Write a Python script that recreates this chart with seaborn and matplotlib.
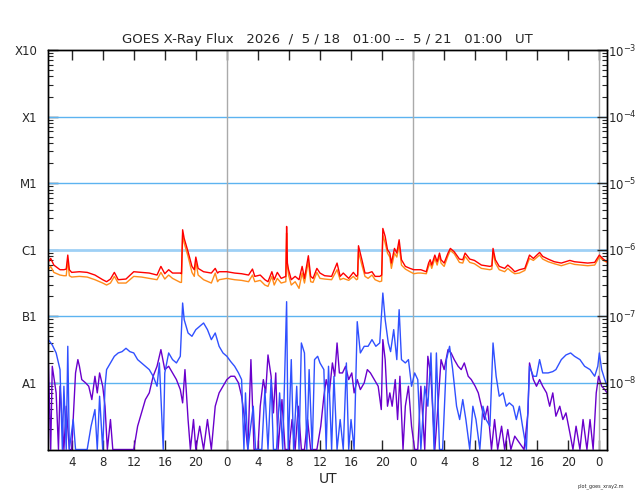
import matplotlib
matplotlib.use("Agg")
import matplotlib.pyplot as plt
import numpy as np
import pandas as pd
import seaborn as sns
from matplotlib.ticker import FixedLocator, LogLocator, NullFormatter

# (hours after 2026-05-18 01:00 UT, log10 flux in W/m^2)
red_pts = [
    (0.0, -6.18), (0.3, -6.13), (0.7, -6.23), (1.5, -6.30), (2.0, -6.30), (2.3, -6.29),
    (2.5, -6.08), (2.7, -6.30), (3.0, -6.34), (4.0, -6.33), (5.0, -6.34), (6.0, -6.38),
    (7.0, -6.45), (7.5, -6.48), (8.0, -6.44), (8.5, -6.34), (9.0, -6.45), (10.0, -6.44),
    (11.0, -6.33), (12.0, -6.34), (13.0, -6.35), (14.0, -6.38), (14.5, -6.25), (15.0, -6.36),
    (15.5, -6.30), (16.0, -6.35), (17.0, -6.35), (17.15, -6.36), (17.3, -5.70), (17.5, -5.83),
    (18.0, -6.03), (18.5, -6.25), (18.8, -6.30), (19.0, -6.11), (19.3, -6.28), (20.0, -6.33),
    (21.0, -6.35), (21.5, -6.28), (21.8, -6.35), (22.0, -6.33), (23.0, -6.33), (24.0, -6.35),
    (24.9, -6.36), (25.8, -6.38), (26.3, -6.29), (26.6, -6.40), (27.3, -6.38), (27.9, -6.45),
    (28.3, -6.48), (28.8, -6.33), (29.1, -6.45), (29.5, -6.34), (30.0, -6.43), (30.6, -6.40),
    (30.7, -5.65), (30.8, -6.20), (30.95, -6.30), (31.3, -6.45), (31.8, -6.40), (32.3, -6.45),
    (32.7, -6.25), (33.0, -6.43), (33.5, -6.09), (33.8, -6.40), (34.1, -6.43), (34.6, -6.28),
    (35.0, -6.35), (35.6, -6.39), (36.5, -6.40), (37.2, -6.20), (37.6, -6.40), (38.0, -6.35),
    (38.7, -6.43), (39.3, -6.34), (39.7, -6.40), (39.85, -6.38), (39.96, -5.94), (40.4, -6.15),
    (40.8, -6.35), (41.2, -6.35), (41.7, -6.33), (42.1, -6.40), (42.7, -6.40), (42.95, -6.38),
    (43.1, -5.68), (43.4, -5.80), (43.7, -6.00), (44.0, -6.05), (44.2, -6.20), (44.6, -5.98),
    (44.9, -6.05), (45.2, -5.85), (45.5, -6.15), (46.0, -6.25), (46.6, -6.28), (47.1, -6.30),
    (47.6, -6.30), (48.0, -6.30), (48.7, -6.33), (49.0, -6.20), (49.2, -6.15), (49.4, -6.23),
    (49.8, -6.08), (50.1, -6.18), (50.4, -6.05), (50.6, -6.15), (51.0, -6.20), (51.5, -6.05),
    (51.8, -5.98), (52.3, -6.03), (52.97, -6.14), (53.4, -6.15), (53.7, -6.05), (54.3, -6.14),
    (54.9, -6.16), (55.8, -6.23), (56.9, -6.25), (57.15, -6.24), (57.3, -5.98), (57.6, -6.15),
    (58.1, -6.25), (58.8, -6.28), (59.2, -6.23), (59.7, -6.28), (60.1, -6.33), (60.7, -6.30),
    (61.4, -6.28), (62.0, -6.08), (62.5, -6.13), (63.3, -6.04), (63.7, -6.10), (64.4, -6.14),
    (65.2, -6.18), (66.1, -6.20), (67.2, -6.16), (67.8, -6.18), (68.7, -6.19), (69.5, -6.20),
    (70.4, -6.19), (71.0, -6.08), (71.5, -6.14), (72.0, -6.18),
]

orange_pts = [
    (0.0, -6.30), (0.3, -6.25), (0.7, -6.34), (1.5, -6.38), (2.0, -6.39), (2.3, -6.39),
    (2.5, -6.15), (2.7, -6.39), (3.0, -6.41), (4.0, -6.40), (5.0, -6.41), (6.0, -6.45),
    (7.0, -6.50), (7.5, -6.53), (8.0, -6.50), (8.5, -6.40), (9.0, -6.50), (10.0, -6.50),
    (11.0, -6.40), (12.0, -6.41), (13.0, -6.43), (14.0, -6.45), (14.5, -6.34), (15.0, -6.44),
    (15.5, -6.38), (16.0, -6.43), (17.0, -6.49), (17.15, -6.49), (17.3, -5.78), (17.5, -5.90),
    (18.0, -6.10), (18.5, -6.34), (18.8, -6.40), (19.0, -6.18), (19.3, -6.38), (20.0, -6.45),
    (21.0, -6.50), (21.5, -6.35), (21.8, -6.48), (22.0, -6.45), (23.0, -6.43), (24.0, -6.45),
    (24.9, -6.46), (25.8, -6.48), (26.3, -6.38), (26.6, -6.48), (27.3, -6.46), (27.9, -6.53),
    (28.3, -6.55), (28.8, -6.40), (29.1, -6.53), (29.5, -6.43), (30.0, -6.50), (30.6, -6.48),
    (30.7, -5.75), (30.8, -6.25), (30.95, -6.38), (31.3, -6.53), (31.8, -6.48), (32.3, -6.58),
    (32.7, -6.35), (33.0, -6.50), (33.5, -6.18), (33.8, -6.48), (34.1, -6.49), (34.6, -6.34),
    (35.0, -6.43), (35.6, -6.44), (36.5, -6.45), (37.2, -6.30), (37.6, -6.45), (38.0, -6.43),
    (38.7, -6.46), (39.3, -6.40), (39.7, -6.45), (39.85, -6.44), (39.96, -6.03), (40.4, -6.23),
    (40.8, -6.40), (41.2, -6.43), (41.7, -6.38), (42.1, -6.45), (42.7, -6.48), (42.95, -6.47),
    (43.1, -5.78), (43.4, -5.90), (43.7, -6.05), (44.0, -6.11), (44.2, -6.28), (44.6, -6.05),
    (44.9, -6.11), (45.2, -5.93), (45.5, -6.23), (46.0, -6.29), (46.6, -6.33), (47.1, -6.36),
    (47.6, -6.35), (48.0, -6.35), (48.7, -6.36), (49.0, -6.25), (49.2, -6.20), (49.4, -6.28),
    (49.8, -6.13), (50.1, -6.23), (50.4, -6.09), (50.6, -6.20), (51.0, -6.25), (51.5, -6.09),
    (51.8, -6.01), (52.3, -6.06), (52.97, -6.19), (53.4, -6.20), (53.7, -6.10), (54.3, -6.19),
    (54.9, -6.21), (55.8, -6.28), (56.9, -6.30), (57.15, -6.29), (57.3, -6.03), (57.6, -6.20),
    (58.1, -6.30), (58.8, -6.33), (59.2, -6.28), (59.7, -6.33), (60.1, -6.36), (60.7, -6.35),
    (61.4, -6.31), (62.0, -6.13), (62.5, -6.16), (63.3, -6.08), (63.7, -6.14), (64.4, -6.18),
    (65.2, -6.21), (66.1, -6.24), (67.2, -6.20), (67.8, -6.22), (68.7, -6.23), (69.5, -6.24),
    (70.4, -6.23), (71.0, -6.11), (71.5, -6.16), (72.0, -6.19),
]

blue_pts = [
    (0.0, -7.35), (0.5, -7.43), (1.0, -7.55), (1.5, -7.80), (1.8, -9.0), (2.0, -8.05),
    (2.3, -9.0), (2.5, -7.45), (2.7, -9.0), (3.2, -8.55), (3.5, -9.0), (5.0, -9.0),
    (5.5, -8.65), (6.0, -8.40), (6.3, -9.0), (6.6, -8.20), (7.0, -9.0), (7.3, -8.05),
    (7.5, -7.80), (8.0, -7.70), (8.5, -7.60), (9.0, -7.55), (9.5, -7.53), (10.0, -7.48),
    (10.5, -7.53), (11.0, -7.55), (11.5, -7.65), (12.0, -7.70), (12.5, -7.75), (13.0, -7.80),
    (13.5, -7.90), (14.0, -8.05), (14.3, -7.70), (14.5, -8.20), (14.8, -9.0), (15.0, -7.85),
    (15.5, -7.55), (16.0, -7.65), (16.5, -7.70), (17.0, -7.60), (17.3, -6.80), (17.5, -7.05),
    (18.0, -7.25), (18.5, -7.30), (19.0, -7.20), (19.5, -7.15), (20.0, -7.10), (20.5, -7.20),
    (21.0, -7.35), (21.5, -7.25), (22.0, -7.45), (22.5, -7.55), (23.0, -7.60), (23.5, -7.68),
    (24.0, -7.75), (24.5, -7.85), (24.9, -7.95), (25.2, -9.0), (25.4, -8.15), (25.7, -9.0),
    (26.4, -8.35), (26.7, -9.0), (27.5, -9.0), (27.9, -8.10), (28.3, -9.0), (28.7, -7.95),
    (29.0, -9.0), (29.4, -9.0), (29.8, -8.15), (30.2, -9.0), (30.7, -6.78), (30.9, -9.0),
    (31.3, -7.65), (31.6, -9.0), (32.0, -8.05), (32.3, -9.0), (32.6, -7.40), (33.0, -7.55),
    (33.3, -9.0), (33.6, -7.80), (34.0, -9.0), (34.3, -7.65), (34.7, -7.60), (35.0, -7.70),
    (35.5, -7.80), (35.8, -9.0), (36.1, -7.75), (36.5, -9.0), (36.8, -7.90), (37.2, -9.0),
    (37.6, -8.55), (38.0, -9.0), (38.4, -7.70), (38.7, -9.0), (39.0, -8.55), (39.4, -9.0),
    (39.8, -7.08), (40.2, -7.55), (40.7, -7.45), (41.2, -7.45), (41.7, -7.35), (42.2, -7.45),
    (42.7, -7.40), (43.1, -6.65), (43.4, -7.05), (43.8, -7.40), (44.1, -7.53), (44.5, -7.20),
    (44.9, -7.65), (45.2, -6.90), (45.5, -7.65), (46.0, -7.70), (46.4, -7.65), (46.8, -8.05),
    (47.2, -7.85), (47.6, -7.95), (48.0, -9.0), (48.5, -8.05), (48.9, -8.35), (49.3, -7.55),
    (49.7, -9.0), (50.0, -7.55), (50.4, -9.0), (50.8, -9.0), (51.3, -7.65), (51.7, -7.45),
    (52.1, -7.80), (52.6, -8.35), (53.0, -8.55), (53.4, -8.25), (53.8, -8.55), (54.3, -9.0),
    (54.7, -8.35), (55.1, -8.55), (55.6, -9.0), (56.0, -8.35), (56.4, -8.55), (56.9, -8.65),
    (57.3, -7.40), (57.7, -7.90), (58.1, -8.20), (58.6, -8.15), (59.0, -8.35), (59.4, -8.30),
    (59.9, -8.35), (60.3, -8.55), (60.7, -8.35), (61.1, -8.65), (61.6, -9.0), (62.0, -7.75),
    (62.5, -7.90), (62.9, -7.90), (63.3, -7.65), (63.7, -7.85), (64.4, -7.85), (65.0, -7.83),
    (65.4, -7.80), (66.1, -7.65), (66.7, -7.58), (67.3, -7.55), (67.8, -7.60), (68.5, -7.65),
    (69.1, -7.75), (69.8, -7.80), (70.4, -7.90), (70.8, -7.75), (71.0, -7.55), (71.3, -7.80),
    (71.7, -7.95), (72.0, -8.05),
]

purple_pts = [
    (0.0, -7.70), (0.3, -9.0), (0.5, -7.75), (1.0, -8.15), (1.3, -9.0), (1.5, -8.05),
    (2.0, -9.0), (2.3, -8.35), (2.7, -9.0), (3.0, -9.0), (3.5, -7.85), (3.8, -7.65),
    (4.0, -7.75), (4.3, -7.95), (4.8, -8.00), (5.2, -8.05), (5.6, -8.25), (6.0, -7.90),
    (6.3, -8.15), (6.6, -7.85), (7.0, -8.05), (7.3, -8.35), (7.6, -9.0), (8.0, -8.55),
    (8.3, -9.0), (11.0, -9.0), (11.5, -8.65), (12.0, -8.45), (12.5, -8.25), (13.0, -8.15),
    (13.5, -7.90), (14.0, -7.75), (14.5, -7.50), (15.0, -7.80), (15.5, -7.75), (16.0, -7.85),
    (16.5, -7.95), (17.0, -8.10), (17.3, -8.30), (17.6, -7.80), (18.0, -8.55), (18.3, -9.0),
    (18.7, -8.55), (19.0, -9.0), (19.5, -8.65), (20.0, -9.0), (20.5, -8.55), (21.0, -9.0),
    (21.5, -8.35), (22.0, -8.15), (22.5, -8.05), (23.0, -7.95), (23.5, -7.90), (24.0, -7.90),
    (24.5, -8.00), (24.9, -8.20), (25.3, -8.55), (25.7, -9.0), (26.1, -7.65), (26.5, -9.0),
    (27.0, -9.0), (27.3, -8.35), (27.7, -7.95), (28.0, -8.15), (28.3, -7.58), (28.7, -7.90),
    (29.0, -8.45), (29.3, -7.85), (29.6, -9.0), (30.1, -8.25), (30.5, -9.0), (31.0, -9.0),
    (31.4, -8.55), (31.8, -9.0), (32.2, -8.35), (32.6, -9.0), (33.0, -9.0), (33.4, -8.55),
    (33.8, -9.0), (34.6, -9.0), (35.1, -8.65), (35.5, -8.20), (35.8, -7.95), (36.2, -8.15),
    (36.6, -7.70), (36.9, -7.90), (37.2, -7.40), (37.5, -7.85), (37.9, -7.85), (38.3, -7.75),
    (38.7, -7.95), (39.1, -7.85), (39.4, -8.15), (39.8, -7.95), (40.2, -8.10), (40.7, -8.00),
    (41.1, -7.80), (41.5, -7.85), (42.0, -7.95), (42.5, -8.05), (42.9, -8.40), (43.1, -7.35),
    (43.4, -7.65), (43.7, -8.35), (44.0, -8.15), (44.3, -8.35), (44.7, -7.95), (45.0, -8.55),
    (45.3, -7.90), (45.7, -9.0), (46.0, -8.35), (46.4, -8.05), (46.8, -8.65), (47.2, -9.0),
    (47.6, -9.0), (48.0, -8.05), (48.5, -9.0), (48.9, -7.60), (49.3, -7.90), (49.8, -9.0),
    (50.2, -8.35), (50.6, -7.65), (51.0, -7.80), (51.5, -7.50), (51.9, -7.55), (52.3, -7.65),
    (52.8, -7.75), (53.2, -7.80), (53.6, -7.70), (54.1, -7.90), (54.5, -7.95), (55.0, -8.05),
    (55.4, -8.15), (55.8, -8.35), (56.2, -8.55), (56.6, -8.35), (57.1, -9.0), (57.5, -8.55),
    (57.9, -9.0), (58.4, -8.65), (58.8, -9.0), (59.2, -8.70), (59.6, -9.0), (60.1, -8.80),
    (61.3, -9.0), (61.8, -8.45), (62.0, -7.70), (62.5, -7.95), (62.9, -8.05), (63.3, -7.95),
    (63.7, -8.05), (64.2, -8.15), (64.6, -8.35), (65.0, -8.15), (65.4, -8.50), (65.9, -8.35),
    (66.3, -8.55), (66.7, -8.45), (67.2, -8.75), (67.6, -9.0), (68.0, -8.65), (68.5, -9.0),
    (68.9, -8.55), (69.4, -9.0), (69.8, -8.55), (70.2, -9.0), (70.6, -8.15), (70.9, -7.90),
    (71.3, -8.05), (71.7, -8.10), (72.0, -8.15),
]

series_colors = {"red": "#ff0000", "orange": "#ff8c1a", "blue": "#3050ff", "purple": "#6a00cc"}
class_values = [1e-8, 1e-7, 1e-6, 1e-5, 1e-4, 1e-3]
class_labels = ["A1", "B1", "C1", "M1", "X1", "X10"]
power_labels = [r"$10^{-8}$", r"$10^{-7}$", r"$10^{-6}$", r"$10^{-5}$", r"$10^{-4}$", r"$10^{-3}$"]
hour_ticks = list(range(3, 72, 4))
hour_labels = [str((h + 1) % 24) for h in hour_ticks]
day_lines = [23, 47, 71]

sns.set_style("ticks")
plt.rcParams["font.family"] = ["DejaVu Sans"]

fig = plt.figure(figsize=(6.4, 5.0), dpi=100)
ax = fig.add_axes([0.0756, 0.101, 0.873, 0.799])

# Grid and day boundaries
for v in class_values[:-1]:
    lw = 2.0 if v == 1e-6 else 1.0
    col = "#9fd0f5" if v == 1e-6 else "#5cb3f0"
    ax.axhline(v, color=col, lw=lw, zorder=1)
for d in day_lines:
    ax.axvline(d, color="#aaaaaa", lw=1.0, zorder=1)

# Flux curves
for name, pts in [("orange", orange_pts), ("red", red_pts), ("purple", purple_pts), ("blue", blue_pts)]:
    df = pd.DataFrame(pts, columns=["hour", "logflux"])
    df["flux"] = 10.0 ** df["logflux"]
    sns.lineplot(data=df, x="hour", y="flux", ax=ax, color=series_colors[name],
                 lw=1.0, estimator=None, sort=False, zorder=3)

ax.set_yscale("log")
ax.set_ylim(1e-9, 1e-3)
ax.set_xlim(0, 72)
ax.set_xlabel("UT", fontsize=10, labelpad=2)
ax.set_ylabel("")

ax.xaxis.set_major_locator(FixedLocator(hour_ticks))
ax.set_xticklabels(hour_labels)
ax.tick_params(axis="x", direction="in", top=True, length=7, width=1, labelsize=8.5, pad=5)

ax.yaxis.set_major_locator(FixedLocator(class_values))
ax.set_yticklabels(class_labels)
ax.yaxis.set_minor_locator(LogLocator(base=10, subs=np.arange(2, 10), numticks=20))
ax.yaxis.set_minor_formatter(NullFormatter())
ax.tick_params(axis="y", which="major", direction="in", length=7, width=1, labelsize=8.5, pad=8)
ax.tick_params(axis="y", which="minor", direction="in", length=3.5, width=0.8)

ax2 = ax.twinx()
ax2.set_yscale("log")
ax2.set_ylim(1e-9, 1e-3)
ax2.yaxis.set_major_locator(FixedLocator(class_values))
ax2.set_yticklabels(power_labels)
ax2.yaxis.set_minor_locator(LogLocator(base=10, subs=np.arange(2, 10), numticks=20))
ax2.yaxis.set_minor_formatter(NullFormatter())
ax2.tick_params(axis="y", which="major", direction="in", length=7, width=1, labelsize=8.5, pad=1)
ax2.tick_params(axis="y", which="minor", direction="in", length=3.5, width=0.8)

for a in (ax, ax2):
    for s in a.spines.values():
        s.set_visible(True)
        s.set_color("black")
        s.set_linewidth(1.0)

ax.set_title("GOES X-Ray Flux   2026  /  5 / 18   01:00 --  5 / 21   01:00   UT",
             fontsize=9.5, pad=5)
fig.text(0.975, 0.028, "plot_goes_xray2.m", fontsize=3.5, ha="right", va="center")

fig.savefig("out.png", dpi=100)
